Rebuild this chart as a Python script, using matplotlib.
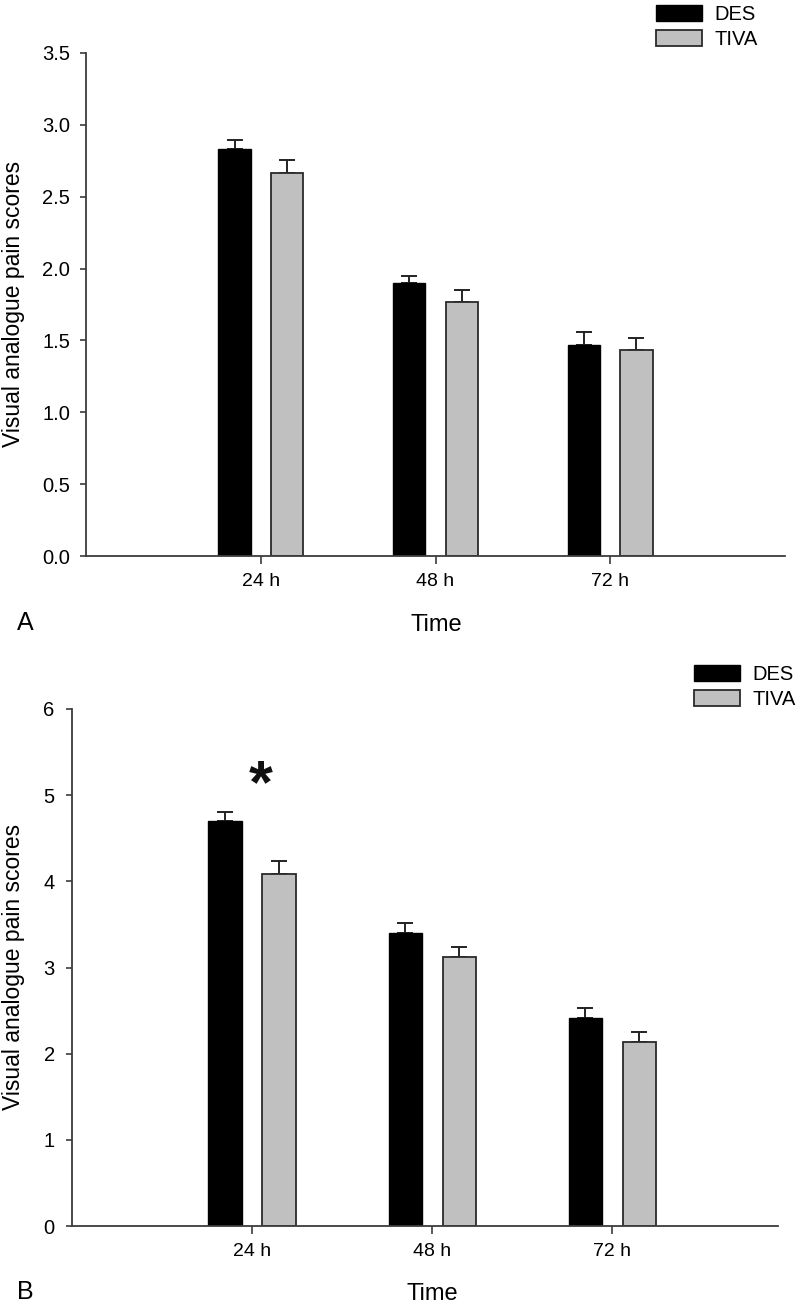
import matplotlib
matplotlib.use("Agg")
import matplotlib.pyplot as plt
import numpy as np

plt.rcParams['font.family'] = ['Liberation Sans', 'DejaVu Sans']

# ---- data ----
times = ["24 h", "48 h", "72 h"]
groups = ["DES", "TIVA"]

a_des = [2.83, 1.90, 1.47]
a_des_err = [0.065, 0.05, 0.09]
a_tiva = [2.665, 1.77, 1.43]
a_tiva_err = [0.09, 0.08, 0.09]

b_des = [4.70, 3.40, 2.41]
b_des_err = [0.10, 0.12, 0.12]
b_tiva = [4.09, 3.12, 2.13]
b_tiva_err = [0.15, 0.12, 0.12]

a_yticks = [0.0, 0.5, 1.0, 1.5, 2.0, 2.5, 3.0, 3.5]
a_yticklabels = ["0.0", "0.5", "1.0", "1.5", "2.0", "2.5", "3.0", "3.5"]
b_yticks = [0, 1, 2, 3, 4, 5, 6]
b_yticklabels = ["0", "1", "2", "3", "4", "5", "6"]

W, H = 800, 1309
fig = plt.figure(figsize=(W / 100, H / 100), dpi=100)

def fx(px):
    return px / W

def fy(py):
    return 1 - py / H

DES_COLOR = "#000000"
TIVA_COLOR = "#c0c0c0"
EDGE = "#2a2a2a"
SPINE = "#3c3c3c"


def panel(rect, des, des_err, tiva, tiva_err, yticks, yticklabels, ylim, xlim, ypad):
    ax = fig.add_axes(rect)
    x = np.arange(len(times))
    w = 0.185
    off = 0.15
    ax.bar(x - off, des, w, color=DES_COLOR, edgecolor="#000000", linewidth=1.0,
           zorder=2, label=groups[0])
    ax.bar(x + off, tiva, w, color=TIVA_COLOR, edgecolor=EDGE, linewidth=1.3,
           zorder=2, label=groups[1])
    ax.errorbar(x - off, des, yerr=[np.zeros(len(des)), des_err], fmt="none",
                ecolor="#222222", elinewidth=1.4, capsize=5.5, capthick=1.4, zorder=1)
    ax.errorbar(x + off, tiva, yerr=[np.zeros(len(tiva)), tiva_err], fmt="none",
                ecolor="#222222", elinewidth=1.4, capsize=5.5, capthick=1.4, zorder=1)
    ax.set_xlim(*xlim)
    ax.set_ylim(*ylim)
    ax.set_xticks(x)
    ax.set_xticklabels(times, fontsize=14)
    ax.set_yticks(yticks)
    ax.set_yticklabels(yticklabels, fontsize=14.5)
    for s in ["top", "right"]:
        ax.spines[s].set_visible(False)
    for s in ["left", "bottom"]:
        ax.spines[s].set_color(SPINE)
        ax.spines[s].set_linewidth(1.3)
    ax.tick_params(axis="y", direction="out", length=4.5, width=1.2, color=SPINE, pad=ypad)
    ax.tick_params(axis="x", direction="out", length=6, width=1.2, color=SPINE, pad=6)
    return ax

# Panel A
axA = panel([fx(86), fy(556), fx(785) - fx(86), fy(53) - fy(556)],
            a_des, a_des_err, a_tiva, a_tiva_err, a_yticks, a_yticklabels,
            (0, 3.5), (-1, 3), 7)
# Panel B
axB = panel([fx(72), fy(1226), fx(778) - fx(72), fy(709) - fy(1226)],
            b_des, b_des_err, b_tiva, b_tiva_err, b_yticks, b_yticklabels,
            (0, 6), (-1, 2.92), 8)

# significance star in B
axB.text(0.05, 5.1, "*", fontsize=44, fontweight="bold", ha="center", va="center",
         color="#111111")

# labels
fig.text(fx(14), fy(304), "Visual analogue pain scores", rotation=90, fontsize=16.5,
         ha="center", va="center")
fig.text(fx(14), fy(967), "Visual analogue pain scores", rotation=90, fontsize=16.5,
         ha="center", va="center")
fig.text(fx(436), fy(625), "Time", fontsize=17, ha="center", va="center")
fig.text(fx(432), fy(1294), "Time", fontsize=17, ha="center", va="center")
fig.text(fx(25), fy(623), "A", fontsize=18, ha="center", va="center")
fig.text(fx(25), fy(1292), "B", fontsize=18, ha="center", va="center")

# legends
for ax, (lx, ly) in [(axA, (656, 5)), (axB, (694, 665))]:
    h, l = ax.get_legend_handles_labels()
    fig.legend(h, l, loc="upper left", bbox_to_anchor=(fx(lx), fy(ly)),
               frameon=False, fontsize=14.5, handlelength=2.3, handleheight=0.8,
               handletextpad=0.6, labelspacing=0.3, borderpad=0, borderaxespad=0)

fig.savefig("out.png", dpi=100)
